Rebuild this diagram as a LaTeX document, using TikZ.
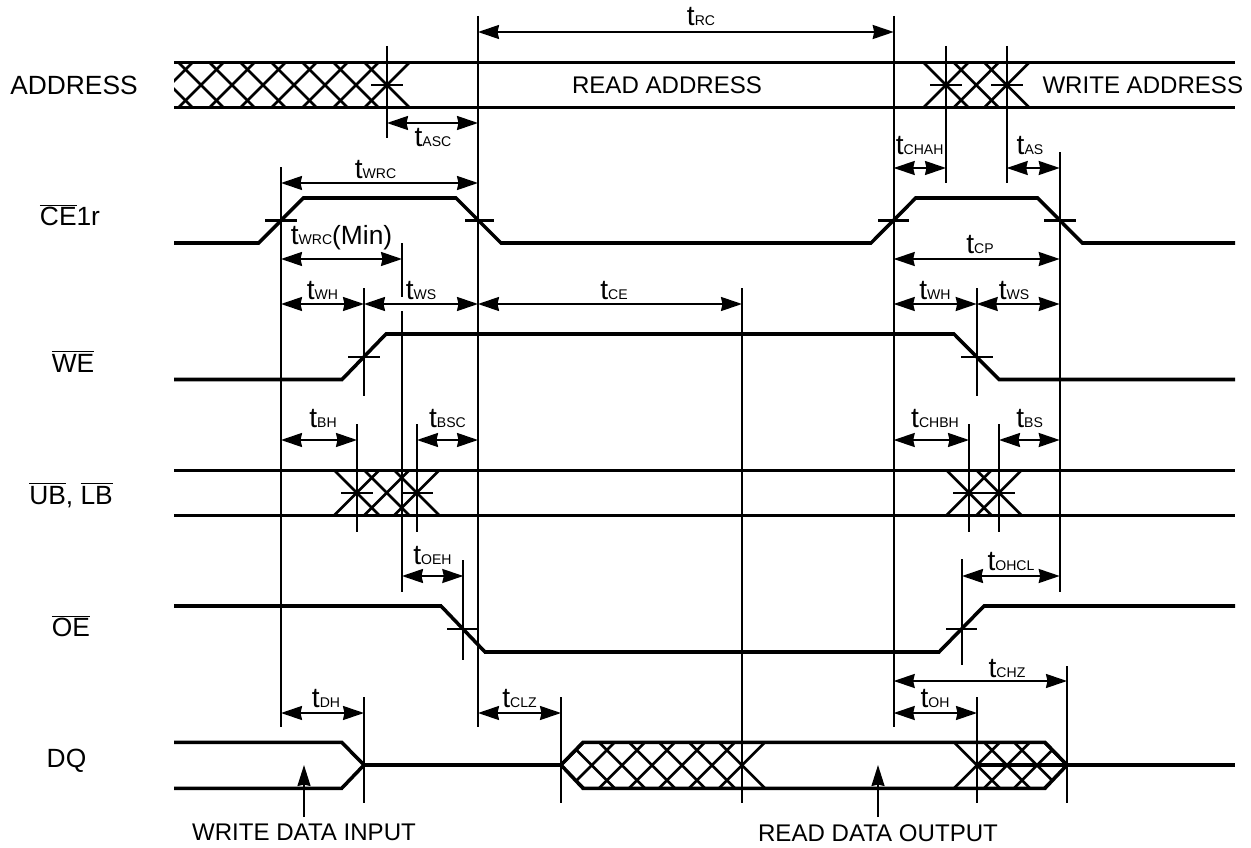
\documentclass[tikz,border=0pt]{standalone}
\usepackage{fontspec}
\setmainfont{Liberation Sans}
\usetikzlibrary{arrows.meta}
\newcommand{\tname}[1]{{\fontsize{16}{18}\selectfont t}{\fontsize{8}{10}\selectfont #1}}
\newcommand{\ovl}[1]{$\overline{\mbox{#1}}$}
\tikzset{
    signal/.style={line width=2pt},
    hatch/.style={line width=1.5pt},
    marker/.style={line width=1.15pt},
    dim/.style={line width=1.15pt, {Stealth[length=0.42cm,width=0.28cm,inset=0.03cm]}-{Stealth[length=0.42cm,width=0.28cm,inset=0.03cm]}},
    pointer/.style={line width=1.15pt, -{Stealth[length=0.42cm,width=0.26cm,inset=0.03cm]}},
    txt/.style={font=\fontsize{15}{18}\selectfont, inner sep=0pt},
    txtsmall/.style={font=\fontsize{13.7}{18}\selectfont, inner sep=0pt},
}
\begin{document}
\begin{tikzpicture}[x=0.02cm,y=-0.02cm]
    \useasboundingbox (0,0) rectangle (1251,848);

    % Signal names
    \node[txt] (lbladdress) at (74,85) {ADDRESS};
    \node[txt] (lblce) at (70,215) {\ovl{CE}1r};
    \node[txt] (lblwe) at (73,361.5) {\ovl{WE}};
    \node[txt] (lblub) at (71,495) {\ovl{UB}, \ovl{LB}};
    \node[txt] (lbloe) at (71,626) {\ovl{OE}};
    \node[txt] (lbldq) at (66.5,761) {DQ};

    % ADDRESS
    \draw[signal] (174,62.5) -- (1235,62.5);
    \draw[signal] (174,107.5) -- (1235,107.5);
    \begin{scope}
        \clip (174,62.5) rectangle (1235,107.5);
        \foreach \xc in {170,201,232,263,294,325,356,387,946,976.3,1006.7} {
            \draw[hatch] (\xc-22.5,62.5) -- (\xc+22.5,107.5);
            \draw[hatch] (\xc-22.5,107.5) -- (\xc+22.5,62.5);
        }
    \end{scope}
    \node[txtsmall] (lblread) at (667,85.5) {READ ADDRESS};
    \node[txtsmall] (lblwrite) at (1142.8,85.5) {WRITE ADDRESS};

    % CE1r
    \draw[signal] (174,243) -- (258.7,243) -- (303.3,198) -- (456,198) -- (501,243)
        -- (871,243) -- (915.7,198) -- (1037.7,198) -- (1082.3,243) -- (1235,243);

    % WE
    \draw[signal] (174,379.5) -- (342,379.5) -- (386,334) -- (954,334) -- (999,379.5) -- (1235,379.5);

    % UB, LB
    \draw[signal] (174,470.3) -- (1235,470.3);
    \draw[signal] (174,515.3) -- (1235,515.3);
    \foreach \xc in {356.7,386.7,416.7,969,999} {
        \draw[hatch] (\xc-22.5,470.3) -- (\xc+22.5,515.3);
        \draw[hatch] (\xc-22.5,515.3) -- (\xc+22.5,470.3);
    }

    % OE
    \draw[signal] (174,606) -- (441,606) -- (485,652) -- (939,652) -- (984,606) -- (1235,606);

    % DQ
    \draw[signal] (174,742.3) -- (341.7,742.3) -- (364,765) -- (341.7,788.3) -- (174,788.3);
    \draw[signal] (364,765) -- (561,765);
    \draw[signal] (977,765) -- (1235,765);
    \draw[signal] (561,765) -- (583,742.3) -- (1045,742.3) -- (1067,765) -- (1045,788.3) -- (583,788.3) -- cycle;
    \begin{scope}
        \clip (561,765) -- (583,742.3) -- (1045,742.3) -- (1067,765) -- (1045,788.3) -- (583,788.3) -- cycle;
        \foreach \xc in {561,591.7,622,652,682,712,742,977,1007,1037,1067} {
            \draw[hatch] (\xc-23,742.3) -- (\xc+23,788.3);
            \draw[hatch] (\xc-23,788.3) -- (\xc+23,742.3);
        }
    \end{scope}

    % Long vertical markers
    \draw[marker] (281,167) -- (281,727);
    \draw[marker] (478,16) -- (478,727);
    \draw[marker] (893.7,16) -- (893.7,727);
    \draw[marker] (1059.7,152) -- (1059.7,592);
    \draw[marker] (742,288) -- (742,803);
    \draw[marker] (387,46) -- (387,138);
    \draw[marker] (946,46) -- (946,183);
    \draw[marker] (1006.7,46) -- (1006.7,183);
    \draw[marker] (402,243) -- (402,297);
    \draw[marker] (402,311) -- (402,592);
    \draw[marker] (364,288) -- (364,396);
    \draw[marker] (976.7,288) -- (976.7,396);
    \draw[marker] (357,424) -- (357,532);
    \draw[marker] (417,424) -- (417,532);
    \draw[marker] (969,424) -- (969,532);
    \draw[marker] (999,424) -- (999,532);
    \draw[marker] (463.3,560) -- (463.3,660);
    \draw[marker] (962,559) -- (962,665);
    \draw[marker] (364,697) -- (364,803);
    \draw[marker] (561,697) -- (561,803);
    \draw[marker] (977,697) -- (977,803);
    \draw[marker] (1067,666) -- (1067,803);

    % Crossing marks
    \draw[marker] (371,85) -- (403,85);
    \draw[marker] (930,85) -- (962,85);
    \draw[marker] (991,85) -- (1023,85);
    \draw[marker] (265,220.5) -- (297,220.5);
    \draw[marker] (465,220.5) -- (494,220.5);
    \draw[marker] (878,220.5) -- (909,220.5);
    \draw[marker] (1044,220.5) -- (1076,220.5);
    \draw[marker] (348,357) -- (380,357);
    \draw[marker] (961,357) -- (993,357);
    \draw[marker] (341,493) -- (373,493);
    \draw[marker] (403,493) -- (433,493);
    \draw[marker] (953,493) -- (1015,493);
    \draw[marker] (447,629) -- (478,629);
    \draw[marker] (946,629) -- (977,629);

    % Timing arrows
    \draw[dim] (478,32) -- (893.7,32);
    \draw[dim] (387,123) -- (478,123);
    \draw[dim] (893.7,168) -- (946,168);
    \draw[dim] (1006.7,168) -- (1059.7,168);
    \draw[dim] (281,183) -- (478,183);
    \draw[dim] (281,259) -- (402,259);
    \draw[dim] (893.7,259) -- (1059.7,259);
    \draw[dim] (281,304) -- (364,304);
    \draw[dim] (364,304) -- (478,304);
    \draw[dim] (478,304) -- (742,304);
    \draw[dim] (893.7,304) -- (976.7,304);
    \draw[dim] (976.7,304) -- (1059.7,304);
    \draw[dim] (281,440) -- (357,440);
    \draw[dim] (417,440) -- (478,440);
    \draw[dim] (893.7,440) -- (969,440);
    \draw[dim] (999,440) -- (1059.7,440);
    \draw[dim] (402,576) -- (463.3,576);
    \draw[dim] (962,576) -- (1059.7,576);
    \draw[dim] (893.7,681) -- (1067,681);
    \draw[dim] (281,713) -- (364,713);
    \draw[dim] (478,713) -- (561,713);
    \draw[dim] (893.7,713) -- (977,713);

    % Timing names
    \node[txt] (trc) at (701,17) {\tname{RC}};
    \node[txt] (tasc) at (433,138) {\tname{ASC}};
    \node[txt] (tchah) at (919.7,146) {\tname{CHAH}};
    \node[txt] (tas) at (1030,146) {\tname{AS}};
    \node[txt] (twrc) at (375.5,169.5) {\tname{WRC}};
    \node[txt] (twrcmin) at (341.5,238) {\tname{WRC}(Min)};
    \node[txt] (tcp) at (980,244.5) {\tname{CP}};
    \node[txt] (twha) at (322.5,291) {\tname{WH}};
    \node[txt] (twsa) at (421,291) {\tname{WS}};
    \node[txt] (tce) at (614,291) {\tname{CE}};
    \node[txt] (twhb) at (935,291) {\tname{WH}};
    \node[txt] (twsb) at (1014,291) {\tname{WS}};
    \node[txt] (tbh) at (323,419) {\tname{BH}};
    \node[txt] (tbsc) at (447.5,419) {\tname{BSC}};
    \node[txt] (tchbh) at (935,419) {\tname{CHBH}};
    \node[txt] (tbs) at (1029.6,419) {\tname{BS}};
    \node[txt] (toeh) at (432.5,556) {\tname{OEH}};
    \node[txt] (tohcl) at (1011,562) {\tname{OHCL}};
    \node[txt] (tchz) at (1007,668.5) {\tname{CHZ}};
    \node[txt] (tdh) at (326,698.5) {\tname{DH}};
    \node[txt] (tclz) at (519.6,698.5) {\tname{CLZ}};
    \node[txt] (toh) at (935,698.5) {\tname{OH}};

    % Data pointers
    \node[txtsmall] (lblinput) at (304,832) {WRITE DATA INPUT};
    \node[txtsmall] (lbloutput) at (878,833.5) {READ DATA OUTPUT};
    \draw[pointer] (304,817) -- (304,765);
    \draw[pointer] (878,817) -- (878,765);
\end{tikzpicture}
\end{document}
